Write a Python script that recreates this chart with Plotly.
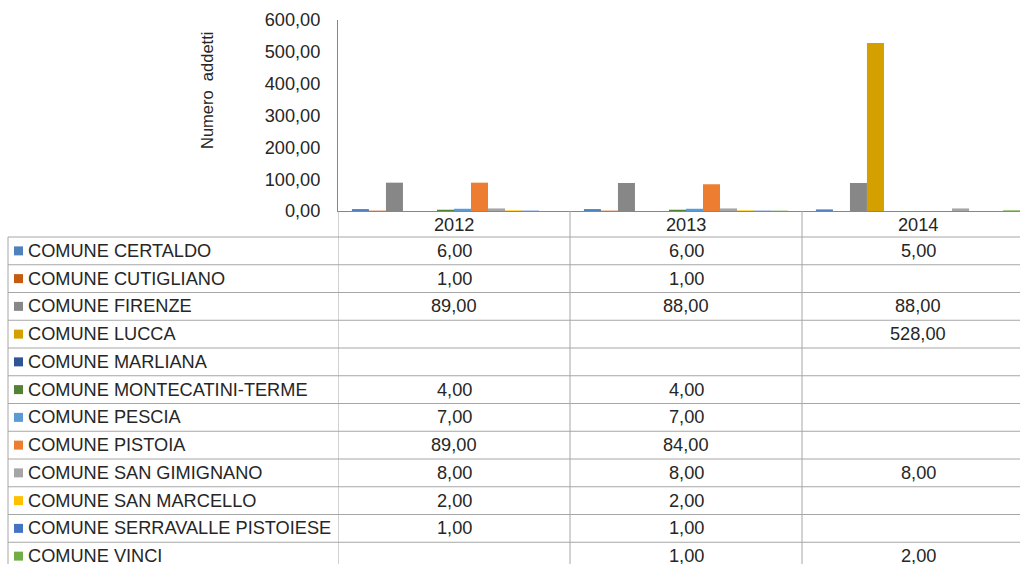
import plotly.graph_objects as go

W, H = 1020, 564

years = ["2012", "2013", "2014"]
comuni = [
    "COMUNE CERTALDO",
    "COMUNE CUTIGLIANO",
    "COMUNE FIRENZE",
    "COMUNE LUCCA",
    "COMUNE MARLIANA",
    "COMUNE MONTECATINI-TERME",
    "COMUNE PESCIA",
    "COMUNE PISTOIA",
    "COMUNE SAN GIMIGNANO",
    "COMUNE SAN MARCELLO",
    "COMUNE SERRAVALLE PISTOIESE",
    "COMUNE VINCI",
]
values = [
    [6, 6, 5],
    [1, 1, None],
    [89, 88, 88],
    [None, None, 528],
    [None, None, None],
    [4, 4, None],
    [7, 7, None],
    [89, 84, None],
    [8, 8, 8],
    [2, 2, None],
    [1, 1, None],
    [None, 1, 2],
]
colors = [
    "#4F81BD", "#C55A11", "#878787", "#D4A000", "#2F5597", "#548235",
    "#5B9BD5", "#ED7D31", "#A5A5A5", "#FFC000", "#4472C4", "#70AD47",
]

FONT = "Liberation Sans, Arial, sans-serif"
TXT = "#262626"
FS = 18.2
AXIS_LINE = "#868686"
GRID = "#A6A6A6"

def fx(px):
    return px / W

def fy(py):
    return 1 - py / H

def fmt(v):
    return f"{v:.2f}".replace(".", ",")

fig = go.Figure()
for name, vals, col in zip(comuni, values, colors):
    fig.add_trace(go.Bar(name=name, x=years, y=vals, marker=dict(color=col, line=dict(width=0)),
                         hoverinfo="skip"))

# table geometry (pixels)
HEAD_TOP = 211
ROW0 = 237
ROWH = 27.75

shapes = []
annotations = []

for k in range(len(comuni)):
    y = ROW0 + ROWH * k
    shapes.append(dict(type="line", xref="paper", yref="paper", x0=fx(8), x1=1,
                       y0=fy(y), y1=fy(y), line=dict(color=GRID, width=1)))
shapes.append(dict(type="line", xref="paper", yref="paper", x0=fx(8), x1=fx(8),
                   y0=fy(ROW0), y1=0, line=dict(color=GRID, width=1)))
for xb in [-0.5, 0.5, 1.5]:
    shapes.append(dict(type="line", xref="x", yref="paper", x0=xb, x1=xb,
                       y0=fy(HEAD_TOP), y1=0, line=dict(color=GRID, width=1)))

for i, yr in enumerate(years):
    annotations.append(dict(xref="x", yref="paper", x=i, y=fy((HEAD_TOP + ROW0) / 2 + 1),
                            text=yr, showarrow=False, xanchor="center", yanchor="middle",
                            font=dict(family=FONT, size=FS, color=TXT)))

for k, (name, vals, col) in enumerate(zip(comuni, values, colors)):
    cy = ROW0 + ROWH * k + ROWH / 2
    shapes.append(dict(type="rect", xref="paper", yref="paper", x0=fx(14), x1=fx(23),
                       y0=fy(cy - 4.5), y1=fy(cy + 4.5), fillcolor=col, line=dict(width=0)))
    annotations.append(dict(xref="paper", yref="paper", x=fx(26), y=fy(cy), text=name,
                            showarrow=False, xanchor="left", yanchor="middle",
                            font=dict(family=FONT, size=FS, color=TXT)))
    for i, v in enumerate(vals):
        if v is None:
            continue
        annotations.append(dict(xref="x", yref="paper", x=i, y=fy(cy), text=fmt(v),
                                showarrow=False, xanchor="center", yanchor="middle",
                                font=dict(family=FONT, size=FS, color=TXT)))

annotations.append(dict(xref="paper", yref="paper", x=fx(207), y=fy(91), text="Numero  addetti",
                        textangle=-90, showarrow=False, xanchor="center", yanchor="middle",
                        font=dict(family=FONT, size=16.5, color=TXT)))

cat_w = 232
x_end = -0.5 + (W - 338) / cat_w

fig.update_layout(
    width=W, height=H,
    margin=dict(l=0, r=0, t=0, b=0, pad=0, autoexpand=False),
    paper_bgcolor="white", plot_bgcolor="white",
    barmode="group", bargap=0.12, bargroupgap=0,
    showlegend=False,
    hovermode=False,
    separators=",.",
    font=dict(family=FONT, size=FS, color=TXT),
    xaxis=dict(domain=[fx(338), 1], type="category", range=[-0.5, x_end],
               showticklabels=False, ticks="", showgrid=False, zeroline=False,
               showline=True, linecolor=AXIS_LINE, linewidth=1, fixedrange=True),
    yaxis=dict(domain=[fy(211), fy(20)], range=[0, 600], dtick=100, tickformat=".2f",
               showgrid=False, zeroline=False, showline=True, linecolor=AXIS_LINE,
               linewidth=1, ticks="", ticklabelstandoff=13, fixedrange=True,
               tickfont=dict(family=FONT, size=FS, color=TXT)),
    shapes=shapes,
    annotations=annotations,
)

fig.write_html(
    "out.html",
    config={"displayModeBar": False, "staticPlot": True},
    post_script="document.body.style.margin='0';document.body.style.overflow='hidden';",
)
